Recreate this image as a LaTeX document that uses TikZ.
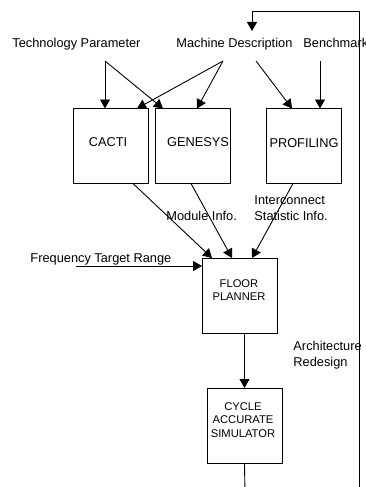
\documentclass[tikz,border=0pt]{standalone}
\usepackage{fontspec}
\setmainfont{Liberation Sans}
\usetikzlibrary{arrows.meta,calc}
\begin{document}
\begin{tikzpicture}[x=1pt,y=-1pt,
  line width=0.9pt,
  arr/.style={-{Triangle[length=9pt,width=10pt]}},
  box/.style={draw,minimum width=75pt,minimum height=75pt,inner sep=0pt,outer sep=0pt},
  txt/.style={font=\fontsize{12.8}{16}\selectfont,inner sep=0pt,anchor=base west},
  boxtxt/.style={font=\fontsize{12.8}{16}\selectfont,inner sep=0pt,anchor=base},
  smalltxt/.style={font=\fontsize{11.2}{13.6}\selectfont,inner sep=0pt,align=center},
]
\useasboundingbox (0,0) rectangle (365,487);

% inputs
\node[txt] (tech) at (12,48) {Technology Parameter};
\node[txt] (mach) at (176,48) {Machine Description};
\node[txt] (bench) at (303,48) {Benchmark};

% tool boxes
\node[box] (cacti) at (110.5,146) {};
\node[box] (genesys) at (192.5,146) {};
\node[box] (prof) at (303.5,146) {};
\node[boxtxt] (cactiL) at (108,146) {CACTI};
\node[boxtxt] (genesysL) at (198,146) {GENESYS};
\node[boxtxt] (profL) at (304,147) {PROFILING};

% arrow origins below the input labels
\coordinate (tp) at (105,61);
\coordinate (md1) at (223,61);
\coordinate (md2) at (256,61);
\coordinate (bm) at (320,61);

\draw[arr] (tp) -- (cacti.north -| tp);
\draw[arr] (tp) -- ($(genesys.north west)+(8,0)$);
\draw[arr] (md1) -- ($(cacti.north west)+(64,0)$);
\draw[arr] (md1) -- ($(genesys.north west)+(42,0)$);
\draw[arr] (md2) -- ($(prof.north west)+(26,0)$);
\draw[arr] (bm) -- (prof.north -| bm);

% floor planner
\node[box] (floor) at (239.5,295.5) {};
\node[smalltxt] (floorL) at (239,290) {FLOOR\\PLANNER};

\draw[arr] ($(cacti.south west)+(60,0)$) -- ($(floor.north west)+(10,0)$);
\draw[arr] ($(genesys.south west)+(36,0)$) -- ($(floor.north west)+(30,0)$);
\draw[arr] ($(prof.south west)+(27,0)$) -- ($(floor.north west)+(50,0)$);

\node[txt] (modinfo) at (166,220) {Module Info.};
\node[txt] (interc) at (254,204) {Interconnect};
\node[txt] (statinfo) at (254,220) {Statistic Info.};

\node[txt] (freq) at (30,262) {Frequency Target Range};
\coordinate (fstart) at (76,266);
\draw[arr] (fstart) -- (fstart -| floor.west);

% simulator
\node[box] (sim) at (244.5,425.5) {};
\node[smalltxt] (simL) at (243,420) {CYCLE\\ACCURATE\\SIMULATOR};
\draw[arr] (floor.south -| sim.north) -- (sim.north);
\coordinate (simOut) at (245,495);
\draw (sim.south) -- (simOut);

% feedback loop
\node[txt] (arch) at (293,350.5) {Architecture};
\node[txt] (redes) at (293,366) {Redesign};
\coordinate (fbBot) at (359,495);
\coordinate (fbTop) at (359,11);
\coordinate (fbEnd) at (252,31);
\draw[arr] (fbBot) -- (fbTop) -| (fbEnd);
\end{tikzpicture}
\end{document}
